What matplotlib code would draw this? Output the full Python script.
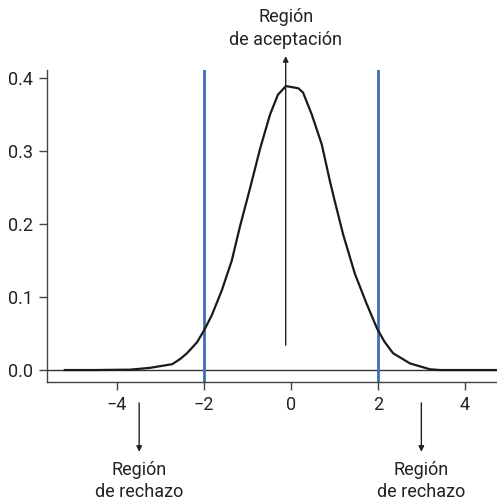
import matplotlib
matplotlib.use("Agg")
import matplotlib.pyplot as plt

plt.rcParams['font.family'] = ['Roboto', 'DejaVu Sans']

# Density curve (estimated sampling distribution of the test statistic)
curve_x = [-5.2, -4.5, -3.7, -3.24, -2.73, -2.55, -2.39, -2.16, -2.0, -1.82, -1.59,
           -1.36, -1.17, -0.94, -0.71, -0.48, -0.3, -0.115, 0.17, 0.28, 0.48,
           0.71, 0.9, 1.01, 1.2, 1.47, 1.74, 1.98, 2.15, 2.35, 2.74, 3.2, 3.43, 4.0, 4.75]
curve_y = [0.0, 0.0, 0.0005, 0.003, 0.008, 0.015, 0.023, 0.038, 0.054, 0.075, 0.109,
           0.15, 0.197, 0.249, 0.303, 0.35, 0.377, 0.389, 0.386, 0.38, 0.35,
           0.309, 0.258, 0.231, 0.186, 0.132, 0.091, 0.057, 0.039, 0.023, 0.009, 0.001,
           0.0, 0.0, 0.0]

critical_values = [-2, 2]
x_ticks = [-4, -2, 0, 2, 4]
y_ticks = [0.0, 0.1, 0.2, 0.3, 0.4]

accept_lines = ["Región", "de aceptación"]
reject_lines = ["Región", "de rechazo"]
accept_x = -0.12
reject_x = [-3.49, 3.0]

W, H = 497, 501
fig = plt.figure(figsize=(W / 100, H / 100), dpi=100)
ax = fig.add_axes([47 / W, 1 - 382 / H, (497 - 47) / W, (382 - 70) / H])

ax.set_xlim(-5.61, 4.74)
ax.set_ylim(-0.0164, 0.411)

ink = '#222222'
blue = '#3d70b2'

ax.axhline(0, color='#333333', lw=1.0, zorder=1)
for cv in critical_values:
    ax.axvline(cv, color=blue, lw=2.0, zorder=2)
ax.plot(curve_x, curve_y, color='#1a1a1a', lw=1.6, zorder=3,
        solid_joinstyle='round')

for side in ['top', 'right']:
    ax.spines[side].set_visible(False)
for side in ['left', 'bottom']:
    ax.spines[side].set_color('#444444')
    ax.spines[side].set_linewidth(1.0)

ax.set_xticks(x_ticks)
ax.set_xticklabels([f"{t:d}".replace('-', '\u2212') for t in x_ticks])
ax.set_yticks(y_ticks)
ax.set_yticklabels([f"{t:.1f}" for t in y_ticks])
ax.tick_params(axis='both', length=6, width=1.0, color='#444444',
               labelsize=13, labelcolor=ink, pad=4)

# Acceptance region arrow and label
ax.annotate('', xy=(accept_x, 0.43), xytext=(accept_x, 0.034),
            xycoords='data', annotation_clip=False,
            arrowprops=dict(arrowstyle='-|>', color=ink, lw=1.0,
                            mutation_scale=8, shrinkA=0, shrinkB=0))
for line, yb in zip(accept_lines, [0.477, 0.445]):
    ax.text(accept_x, yb, line, ha='center', va='baseline',
            fontsize=13, color=ink, clip_on=False)

# Rejection region arrows and labels
for rx in reject_x:
    ax.annotate('', xy=(rx, -0.112), xytext=(rx, -0.045),
                xycoords='data', annotation_clip=False,
                arrowprops=dict(arrowstyle='-|>', color=ink, lw=1.0,
                                mutation_scale=8, shrinkA=0, shrinkB=0))
    for line, yb in zip(reject_lines, [-0.1438, -0.1735]):
        ax.text(rx, yb, line, ha='center', va='baseline',
                fontsize=13, color=ink, clip_on=False)

fig.savefig('out.png', dpi=100)
